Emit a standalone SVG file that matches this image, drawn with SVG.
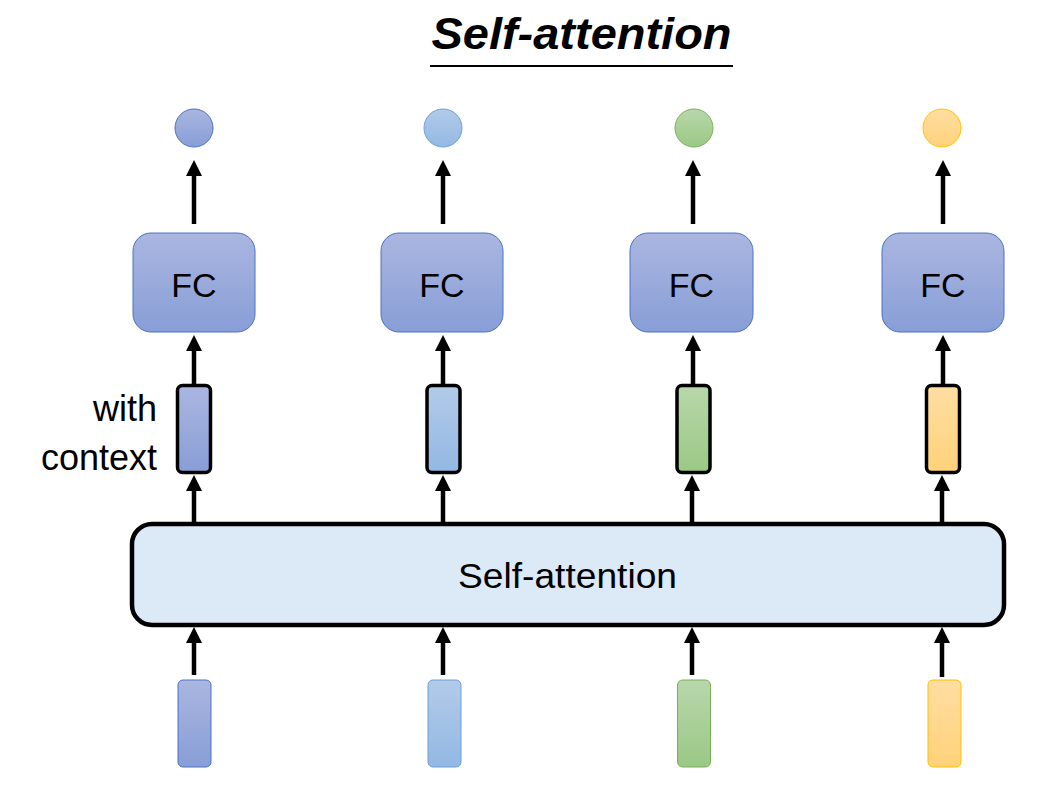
<svg xmlns="http://www.w3.org/2000/svg" width="1064" height="785" viewBox="0 0 1064 785">
  <defs>
    <linearGradient id="g1" x1="0" y1="0" x2="0" y2="1"><stop offset="0" stop-color="#aab6e0"/><stop offset="1" stop-color="#889ed7"/></linearGradient>
    <linearGradient id="g2" x1="0" y1="0" x2="0" y2="1"><stop offset="0" stop-color="#b2cbe9"/><stop offset="1" stop-color="#93b8e4"/></linearGradient>
    <linearGradient id="g3" x1="0" y1="0" x2="0" y2="1"><stop offset="0" stop-color="#b8d7ab"/><stop offset="1" stop-color="#9bc885"/></linearGradient>
    <linearGradient id="g4" x1="0" y1="0" x2="0" y2="1"><stop offset="0" stop-color="#ffdea2"/><stop offset="1" stop-color="#ffd27a"/></linearGradient>
    <marker id="arr" viewBox="0 0 16 16" refX="5" refY="8" markerWidth="16" markerHeight="16" markerUnits="userSpaceOnUse" orient="auto">
      <path d="M0,0 L16,8 L0,16 z" fill="#000"/>
    </marker>
  </defs>
  <style>
    .t { font-family: "Liberation Sans", Arial, sans-serif; fill: #000; }
    .fc { fill: url(#g1); stroke: #4a72c4; stroke-width: 1; }
    .ctx { stroke: #000; stroke-width: 3.5; }
    .con line { stroke: #000; stroke-width: 4.5; marker-end: url(#arr); }
  </style>
  <rect width="1064" height="785" fill="#fff"/>

  <g id="title">
    <text class="t" x="581.5" y="49" font-size="44" font-weight="bold" font-style="italic" text-anchor="middle" textLength="300" lengthAdjust="spacingAndGlyphs">Self-attention</text>
    <rect x="430" y="65" width="303" height="2" fill="#000"/>
  </g>

  <g id="outputs">
    <circle id="out1" cx="194" cy="128" r="19" fill="url(#g1)" stroke="#4a72c4" stroke-width="1"/>
    <circle id="out2" cx="443" cy="128" r="19" fill="url(#g2)" stroke="#6a9fd8" stroke-width="1"/>
    <circle id="out3" cx="694" cy="128" r="19" fill="url(#g3)" stroke="#79b255" stroke-width="1"/>
    <circle id="out4" cx="942" cy="128" r="19" fill="url(#g4)" stroke="#ffc000" stroke-width="1"/>
  </g>

  <g id="fc1"><rect class="fc" x="133" y="233" width="122" height="99" rx="18"/><text class="t" x="194" y="297" font-size="34" text-anchor="middle">FC</text></g>
  <g id="fc2"><rect class="fc" x="381" y="233" width="122" height="99" rx="18"/><text class="t" x="442" y="297" font-size="34" text-anchor="middle">FC</text></g>
  <g id="fc3"><rect class="fc" x="630" y="233" width="123" height="99" rx="18"/><text class="t" x="691.5" y="297" font-size="34" text-anchor="middle">FC</text></g>
  <g id="fc4"><rect class="fc" x="882" y="233" width="122" height="99" rx="18"/><text class="t" x="943" y="297" font-size="34" text-anchor="middle">FC</text></g>

  <g id="ctx1"><rect class="ctx" x="177.5" y="385.5" width="33" height="87" rx="5" fill="url(#g1)"/></g>
  <g id="ctx2"><rect class="ctx" x="427" y="385.5" width="33" height="87" rx="5" fill="url(#g2)"/></g>
  <g id="ctx3"><rect class="ctx" x="677" y="385.5" width="33" height="87" rx="5" fill="url(#g3)"/></g>
  <g id="ctx4"><rect class="ctx" x="926.5" y="385.5" width="33" height="87" rx="5" fill="url(#g4)"/></g>

  <g id="label-context">
    <text class="t" x="157" y="421" font-size="36" text-anchor="end">with</text>
    <text class="t" x="157" y="470" font-size="36" text-anchor="end">context</text>
  </g>

  <g id="selfattention">
    <rect x="132" y="524" width="872" height="101" rx="20" fill="#dce9f7" stroke="#000" stroke-width="4.5"/>
    <text class="t" x="567.5" y="588" font-size="35" text-anchor="middle" textLength="219" lengthAdjust="spacingAndGlyphs">Self-attention</text>
  </g>

  <g id="inputs">
    <rect id="in1" x="178" y="680" width="33" height="87" rx="5" fill="url(#g1)" stroke="#4a72c4" stroke-width="1"/>
    <rect id="in2" x="428" y="680" width="33" height="87" rx="5" fill="url(#g2)" stroke="#6a9fd8" stroke-width="1"/>
    <rect id="in3" x="677.5" y="680" width="33" height="87" rx="5" fill="url(#g3)" stroke="#79b255" stroke-width="1"/>
    <rect id="in4" x="928" y="680" width="33" height="87" rx="5" fill="url(#g4)" stroke="#ffc000" stroke-width="1"/>
  </g>

  <g id="connectors" class="con">
    <line x1="194" y1="224" x2="194" y2="171"/>
    <line x1="443" y1="224" x2="443" y2="171"/>
    <line x1="693" y1="224" x2="693" y2="171"/>
    <line x1="943" y1="224" x2="943" y2="171"/>

    <line x1="194" y1="384" x2="194" y2="346"/>
    <line x1="443" y1="384" x2="443" y2="346"/>
    <line x1="693" y1="384" x2="693" y2="346"/>
    <line x1="943" y1="384" x2="943" y2="346"/>

    <line x1="194" y1="522" x2="194" y2="486"/>
    <line x1="443" y1="522" x2="443" y2="486"/>
    <line x1="692" y1="522" x2="692" y2="486"/>
    <line x1="942" y1="522" x2="942" y2="486"/>

    <line x1="194" y1="675" x2="194" y2="638"/>
    <line x1="443" y1="675" x2="443" y2="638"/>
    <line x1="692" y1="675" x2="692" y2="638"/>
    <line x1="942" y1="677" x2="942" y2="638"/>
  </g>
</svg>
